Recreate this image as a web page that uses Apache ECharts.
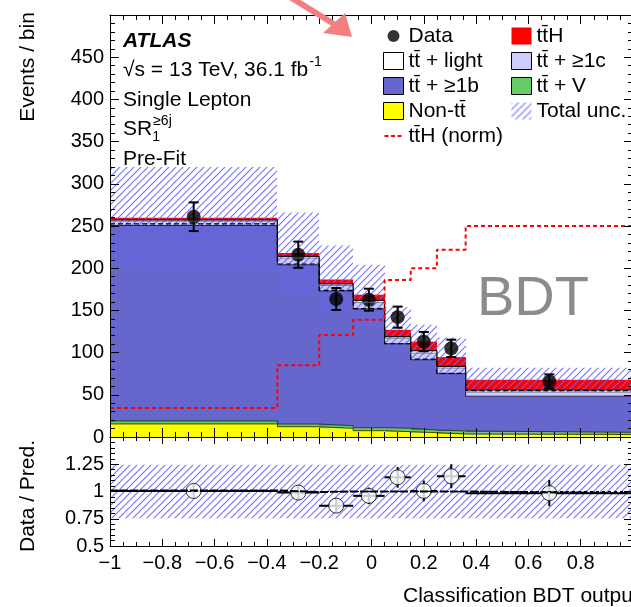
<!DOCTYPE html>
<html>
<head>
<meta charset="utf-8">
<script src="https://cdn.jsdelivr.net/npm/echarts@6/dist/echarts.min.js"></script>
<style>
  html, body { margin: 0; padding: 0; background: #fff; }
  #chart { width: 631px; height: 607px; }
</style>
</head>
<body>
<div id="chart"></div>
<script>
const FONT = '"Liberation Sans", Arial, Helvetica, sans-serif';

// binning of the BDT output
const binEdges = [-1, -0.36, -0.2, -0.07, 0.05, 0.15, 0.25, 0.36, 1];

// pre-fit stack, events per bin (bottom to top)
const nonTtbar = [15.5, 12.2, 10.3, 7.5, 6.3, 5.1, 3.6, 3.0];
const ttV      = [3.5, 3.2, 3.1, 3.5, 4.0, 3.2, 3.5, 2.6];
const tt1b     = [231.6, 188.6, 159.6, 140.7, 100.2, 83.2, 67.9, 42.7];
const tt1c     = [5.2, 8.0, 6.5, 7.7, 6.5, 7.8, 6.7, 4.9];
const ttLight  = [1.5, 2.0, 2.0, 2.5, 2.0, 3.0, 2.0, 2.5];
const ttH      = [2.4, 4.0, 5.0, 6.7, 8.0, 10.7, 11.0, 12.0];

// total uncertainty band (lower / upper edge)
const uncUp   = [320, 266, 227, 204, 154, 133, 118, 82];
const uncDown = [199, 170, 146, 133, 100, 93, 71, 53];

// data
const dataEvents = [261, 216, 163.5, 162.7, 142, 113, 105, 65.7];
const dataErr    = [17, 15.5, 13, 13, 12.5, 11.5, 10.3, 8.5];

// ttH normalised to the background, and the black dashed reference
const ttHnorm   = [34.4, 85, 121, 139, 186, 200, 222, 250];
const dashedRef = [252.6, 205, 173.8, 152, 110.5, 92.3, 75.5, 55];

// ratio panel
const ratioVals    = [1.005, 0.99, 0.87, 0.96, 1.13, 1.005, 1.14, 0.985];
const ratioErr     = [0.062, 0.066, 0.065, 0.076, 0.095, 0.095, 0.11, 0.12];
const ratioUncUp   = [1.245, 1.245, 1.245, 1.245, 1.245, 1.245, 1.245, 1.245];
const ratioUncDown = [0.755, 0.755, 0.755, 0.755, 0.755, 0.755, 0.755, 0.755];
const ratioLine    = [1.01, 0.995, 1, 1, 1, 1, 1, 0.985];

const BLUE = '#6666cc', LAVENDER = '#ccccff', GREEN = '#66cc66', YELLOW = '#ffff00', RED = '#ff0000';

// hatch pattern for the uncertainty
function makeHatch() {
  const c = document.createElement('canvas');
  c.width = 7; c.height = 7;
  const g = c.getContext('2d');
  g.strokeStyle = 'rgba(100,100,255,0.9)';
  g.lineWidth = 1.1;
  g.beginPath();
  g.moveTo(-1, 8); g.lineTo(8, -1);
  g.moveTo(-1, 1); g.lineTo(1, -1);
  g.moveTo(6, 8); g.lineTo(8, 6);
  g.stroke();
  return c;
}
const hatch = { image: makeHatch(), repeat: 'repeat' };

const centers = binEdges.slice(0, -1).map((e, i) => (e + binEdges[i + 1]) / 2);

function binRows(lo, hi) {
  return binEdges.slice(0, -1).map((e, i) => [e, binEdges[i + 1], lo[i], hi[i]]);
}
function stepRows(vals) {
  return binEdges.map((e, i) => [e, vals[Math.min(i, vals.length - 1)]]);
}

// cumulative stack levels
const stackParts = [nonTtbar, ttV, tt1b, tt1c, ttLight, ttH];
const levels = [];
let base = nonTtbar.map(() => 0);
stackParts.forEach(arr => {
  const top = base.map((b, i) => b + arr[i]);
  levels.push({ lo: base, hi: top });
  base = top;
});

function fillSeries(name, rows, fill, xi, yi) {
  return {
    type: 'custom', name, xAxisIndex: xi, yAxisIndex: yi, silent: true,
    data: rows, dimensions: ['x0', 'x1', 'lo', 'hi'], encode: { x: [0, 1], y: [2, 3] },
    itemStyle: { color: fill },
    renderItem: (params, api) => {
      const a = api.coord([api.value(0), api.value(3)]);
      const b = api.coord([api.value(1), api.value(2)]);
      const x0 = Math.round(a[0]), x1 = Math.round(b[0]);
      return {
        type: 'rect',
        shape: { x: x0, y: a[1], width: x1 - x0, height: b[1] - a[1] },
        style: { fill }
      };
    }
  };
}

function stepSeries(name, vals, lineStyle, xi, yi) {
  return {
    type: 'line', name, xAxisIndex: xi, yAxisIndex: yi, silent: true,
    data: stepRows(vals), step: 'end', symbol: 'none',
    lineStyle, itemStyle: { color: lineStyle.color }
  };
}

const tickStyle = { color: '#000', width: 1 };
function xAxisDef(grid, pos, labels) {
  return {
    type: 'value', gridIndex: grid, position: pos, min: -1, max: 1, interval: 0.2, z: 10,
    axisLine: { show: true, onZero: false, lineStyle: tickStyle },
    axisTick: { show: true, inside: true, length: grid === 0 ? 9 : 7, lineStyle: tickStyle },
    minorTick: { show: true, splitNumber: 4, length: grid === 0 ? 5 : 4, lineStyle: tickStyle },
    splitLine: { show: false },
    axisLabel: {
      show: labels, showMaxLabel: false, color: '#000', fontSize: 20, fontFamily: FONT, margin: 7,
      formatter: v => (v < 0 ? '\u2212' + Math.abs(+v.toFixed(2)) : String(+v.toFixed(2)))
    }
  };
}
function yAxisDef(grid, pos, labels, min, max, interval) {
  return {
    type: 'value', gridIndex: grid, position: pos, min, max, interval, z: 10,
    axisLine: { show: true, onZero: false, lineStyle: tickStyle },
    axisTick: { show: true, inside: true, length: 9, lineStyle: tickStyle },
    minorTick: { show: true, splitNumber: 5, length: 5, lineStyle: tickStyle },
    splitLine: { show: false },
    axisLabel: { show: labels, showMaxLabel: false, color: '#000', fontSize: 20, fontFamily: FONT, margin: 6 }
  };
}

const series = [
  fillSeries('Non-tt\u0304', binRows(levels[0].lo, levels[0].hi), YELLOW, 0, 0),
  fillSeries('tt\u0304 + V', binRows(levels[1].lo, levels[1].hi), GREEN, 0, 0),
  fillSeries('tt\u0304 + \u22651b', binRows(levels[2].lo, levels[2].hi), BLUE, 0, 0),
  fillSeries('tt\u0304 + \u22651c', binRows(levels[3].lo, levels[3].hi), LAVENDER, 0, 0),
  fillSeries('tt\u0304 + light', binRows(levels[4].lo, levels[4].hi), '#ffffff', 0, 0),
  fillSeries('tt\u0304H', binRows(levels[5].lo, levels[5].hi), RED, 0, 0),
  stepSeries('o1', levels[0].hi, { color: '#444400', width: 1 }, 0, 0),
  stepSeries('o2', levels[1].hi, { color: '#224422', width: 1 }, 0, 0),
  stepSeries('o3', levels[2].hi, { color: '#222244', width: 1 }, 0, 0),
  stepSeries('o4', levels[3].hi, { color: '#666688', width: 0.8 }, 0, 0),
  stepSeries('o5', levels[4].hi, { color: '#111111', width: 1.2 }, 0, 0),
  fillSeries('Total unc.', binRows(uncDown, uncUp), hatch, 0, 0),
  stepSeries('ref', dashedRef, { color: '#000', width: 1.2, type: [5, 3] }, 0, 0),
  stepSeries('tt\u0304H (norm)', ttHnorm, { color: RED, width: 2, type: [4, 3] }, 0, 0),
  {
    type: 'custom', name: 'dataErr', xAxisIndex: 0, yAxisIndex: 0, silent: true,
    data: centers.map((c, i) => [c, dataEvents[i], dataErr[i]]),
    encode: { x: 0, y: 1 },
    renderItem: (params, api) => {
      const x = api.value(0), y = api.value(1), e = api.value(2);
      const top = api.coord([x, y + e]), bot = api.coord([x, y - e]);
      const st = { stroke: '#000', lineWidth: 2 };
      return {
        type: 'group', children: [
          { type: 'line', shape: { x1: top[0], y1: top[1], x2: bot[0], y2: bot[1] }, style: st },
          { type: 'line', shape: { x1: top[0] - 5, y1: top[1], x2: top[0] + 5, y2: top[1] }, style: st },
          { type: 'line', shape: { x1: bot[0] - 5, y1: bot[1], x2: bot[0] + 5, y2: bot[1] }, style: st }
        ]
      };
    }
  },
  {
    type: 'scatter', name: 'Data', xAxisIndex: 0, yAxisIndex: 0, silent: true,
    data: centers.map((c, i) => [c, dataEvents[i]]),
    symbol: 'circle', symbolSize: 14, itemStyle: { color: '#000' }
  },

  // ratio panel
  fillSeries('ratioUnc', binRows(ratioUncDown, ratioUncUp), hatch, 2, 2),
  {
    type: 'line', name: 'unity', xAxisIndex: 2, yAxisIndex: 2, silent: true,
    data: [[-1, 1], [1, 1]], symbol: 'none',
    lineStyle: { color: '#000', width: 1, type: [3, 3] }
  },
  stepSeries('ratioLine', ratioLine, { color: '#000', width: 2, type: [8, 2] }, 2, 2),
  {
    type: 'custom', name: 'ratioErr', xAxisIndex: 2, yAxisIndex: 2, silent: true,
    data: centers.map((c, i) => [binEdges[i], binEdges[i + 1], c, ratioVals[i], ratioErr[i]]),
    encode: { x: 2, y: 3 },
    renderItem: (params, api) => {
      const x0 = api.value(0), x1 = api.value(1), c = api.value(2), r = api.value(3), e = api.value(4);
      const l = api.coord([x0, r]), rr = api.coord([x1, r]);
      const top = api.coord([c, r + e]), bot = api.coord([c, r - e]);
      const st = { stroke: '#000', lineWidth: 2 };
      return {
        type: 'group', children: [
          { type: 'line', shape: { x1: l[0], y1: l[1], x2: rr[0], y2: rr[1] }, style: st },
          { type: 'line', shape: { x1: top[0], y1: top[1], x2: bot[0], y2: bot[1] }, style: st }
        ]
      };
    }
  },
  {
    type: 'scatter', name: 'ratio', xAxisIndex: 2, yAxisIndex: 2, silent: true,
    data: centers.map((c, i) => [c, ratioVals[i]]),
    symbol: 'circle', symbolSize: 15,
    itemStyle: { color: '#fff', borderColor: '#000', borderWidth: 1 }
  }
];

const dotIcon = 'path://M0,0M20,17M4,8.5A6,6,0,1,0,16,8.5A6,6,0,1,0,4,8.5Z';
const dashIcon = 'path://M0,0M20,17M1,7.5h4v2h-4zM7.5,7.5h4v2h-4zM14,7.5h4v2h-4z';
const boxed = c => ({ color: c, borderColor: '#000', borderWidth: 1 });
const legendText = { fontSize: 21, lineHeight: 25, color: '#000', fontFamily: FONT };

// text measuring for super/subscripts
const mctx = document.createElement('canvas').getContext('2d');
function textW(str, size) { mctx.font = size + 'px ' + FONT; return mctx.measureText(str).width; }

function txt(x, y, text, size, extra) {
  return {
    type: 'text', x, y, silent: true, z: 100,
    style: Object.assign({ text, fontSize: size, fontFamily: FONT, fill: '#000', verticalAlign: 'middle' }, extra || {})
  };
}

const lineA = '\u221As = 13 TeV, 36.1 fb';
const wA = textW(lineA, 21);
const wSR = textW('SR', 21);

const yTitle = txt(28, 67, 'Events / bin', 21, { align: 'center' });
yTitle.rotation = Math.PI / 2;
const rTitle = txt(28, 496, 'Data / Pred.', 21, { align: 'center' });
rTitle.rotation = Math.PI / 2;

const chart = echarts.init(document.getElementById('chart'), null, { renderer: 'canvas' });
chart.setOption({
  animation: false,
  backgroundColor: '#fff',
  textStyle: { fontFamily: FONT },
  grid: [
    { left: 110, top: 15, width: 523, height: 422, outerBoundsMode: 'none' },
    { left: 110, top: 437, width: 523, height: 109, outerBoundsMode: 'none' }
  ],
  xAxis: [
    xAxisDef(0, 'bottom', false),
    xAxisDef(0, 'top', false),
    xAxisDef(1, 'bottom', true),
    xAxisDef(1, 'top', false)
  ],
  yAxis: [
    yAxisDef(0, 'left', true, 0, 500, 50),
    yAxisDef(0, 'right', false, 0, 500, 50),
    yAxisDef(1, 'left', true, 0.5, 1.5, 0.25),
    yAxisDef(1, 'right', false, 0.5, 1.5, 0.25)
  ],
  legend: [
    {
      left: 378, top: 18.5, orient: 'vertical', itemWidth: 20, itemHeight: 17, itemGap: 0,
      selectedMode: false, textStyle: legendText,
      data: [
        { name: 'Data', icon: dotIcon, itemStyle: { color: '#000', borderWidth: 0 } },
        { name: 'tt\u0304 + light', icon: 'rect', itemStyle: boxed('#ffffff') },
        { name: 'tt\u0304 + \u22651b', icon: 'rect', itemStyle: boxed(BLUE) },
        { name: 'Non-tt\u0304', icon: 'rect', itemStyle: boxed(YELLOW) },
        { name: 'tt\u0304H (norm)', icon: dashIcon, itemStyle: { color: RED, borderWidth: 0 } }
      ]
    },
    {
      left: 506, top: 18.5, orient: 'vertical', itemWidth: 20, itemHeight: 17, itemGap: 0,
      selectedMode: false, textStyle: legendText,
      data: [
        { name: 'tt\u0304H', icon: 'rect', itemStyle: { color: RED, borderWidth: 0 } },
        { name: 'tt\u0304 + \u22651c', icon: 'rect', itemStyle: boxed(LAVENDER) },
        { name: 'tt\u0304 + V', icon: 'rect', itemStyle: boxed(GREEN) },
        { name: 'Total unc.', icon: 'rect', itemStyle: { color: hatch, borderWidth: 0 } }
      ]
    }
  ],
  graphic: [
    // annotation arrow
    { type: 'polyline', silent: true, z: 100, shape: { points: [[290, -3], [334, 24]] },
      style: { stroke: '#f28080', lineWidth: 6 } },
    { type: 'polygon', silent: true, z: 100, shape: { points: [[352, 37], [323, 33], [345, 13]] },
      style: { fill: '#f28080' } },
    txt(123, 41, 'ATLAS', 21, { fontWeight: 'bold', fontStyle: 'italic' }),
    txt(123, 70, lineA, 21),
    txt(123 + wA + 1, 62, '-1', 14),
    txt(123, 100, 'Single Lepton', 21),
    txt(123, 129, 'SR', 21),
    txt(123 + wSR, 137, '1', 14),
    txt(123 + wSR + 1, 121, '\u22656j', 14),
    txt(123, 159, 'Pre-Fit', 21),
    txt(477, 300, 'BDT', 56, { fill: '#8c8c8c' }),
    yTitle,
    rTitle,
    txt(403, 596, 'Classification BDT output', 21)
  ],
  series
});
</script>
</body>
</html>
